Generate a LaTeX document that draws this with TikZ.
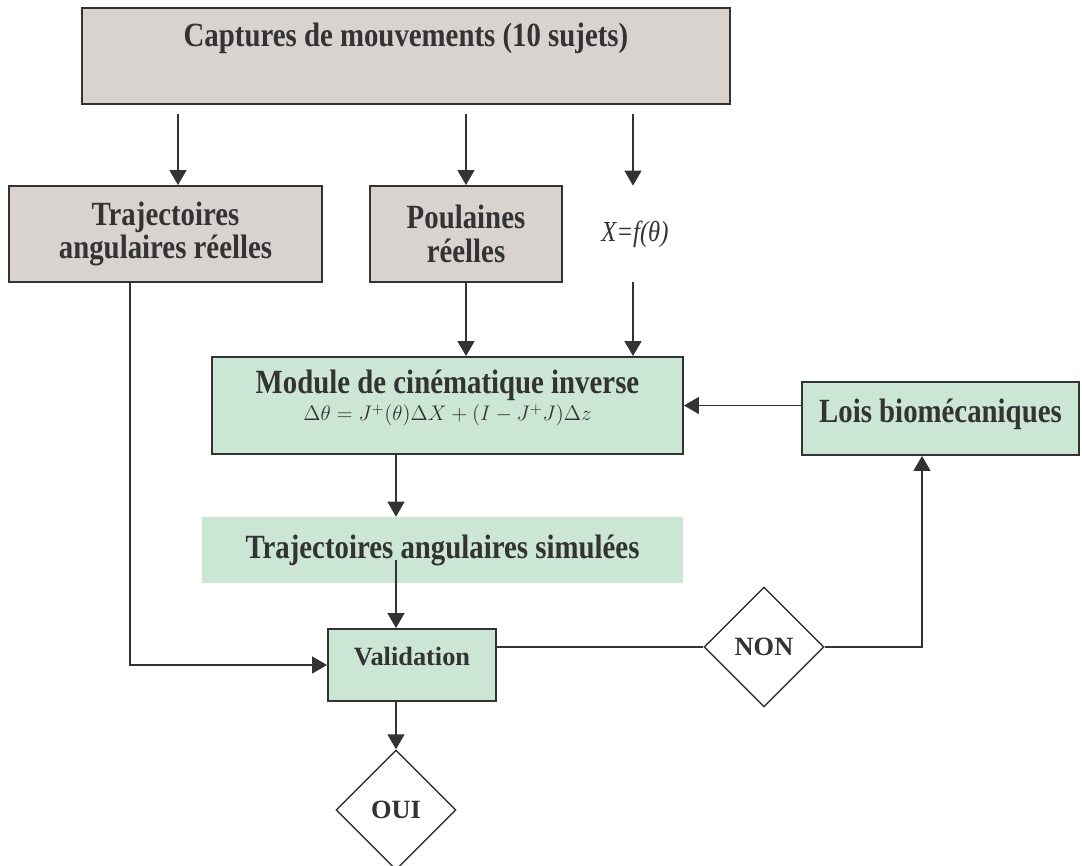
\documentclass[tikz,border=0pt]{standalone}
\usepackage{fontspec}
\setmainfont{Liberation Serif}
\newfontfamily\narrowserif[FakeStretch=0.85]{Liberation Serif}
\usepackage{tikz}
\usetikzlibrary{
  arrows.meta,
  shapes.geometric,
  positioning,
  calc
}
\definecolor{fcInk}{HTML}{333333}
\definecolor{fcGray}{HTML}{D9D3D0}
\definecolor{fcGreen}{HTML}{CCE6D6}
\tikzset{
  fcnode/.style={
    inner sep=0pt, align=center, text=fcInk,
    font=\narrowserif\bfseries\fontsize{19.3}{19.3}\selectfont
  },
  graybox/.style={fcnode, draw=fcInk, line width=1.1pt, fill=fcGray},
  greenbox/.style={fcnode, draw=fcInk, line width=1.1pt, fill=fcGreen},
  plainbox/.style={fcnode, fill=fcGreen},
  decision/.style={
    diamond, aspect=1, draw=fcInk, line width=0.8pt, fill=white,
    minimum width=24mm, minimum height=24mm, inner sep=0pt, text=fcInk,
    font=\bfseries\fontsize{15}{15}\selectfont
  },
  flow/.style={-{Triangle[length=3mm, width=3.4mm]}, line width=0.85pt, draw=fcInk},
  netline/.style={line width=0.85pt, draw=fcInk}
}

\begin{document}
\begin{tikzpicture}[x=0.2mm, y=-0.2mm]
  \useasboundingbox (0,0) rectangle (1082,866);
  \node[graybox, minimum width=129.6mm, text height=7.8mm, text depth=11.4mm] (capt) at (406,56) {Captures de mouvements (10 sujets)};
  \node[graybox, minimum width=62.6mm, minimum height=19.2mm] (traj) at (165.5,234) {Trajectoires\\angulaires réelles};
  \node[graybox, minimum width=38.4mm, minimum height=19.2mm] (poul) at (466,234) {Poulaines\\réelles};
  \node[fcnode, font=\narrowserif\itshape\fontsize{16.5}{16.5}\selectfont, minimum height=19.2mm] (xf) at (635,234) {X=f(θ)};
  \node[greenbox, minimum width=94.2mm, text height=12.8mm, text depth=6.6mm] (modul) at (447.5,405.5) {Module de cinématique inverse\\[-3.5pt]{\fontsize{11.5}{13}\selectfont$\Delta\theta = J^{+}(\theta)\Delta X + \bigl(I - J^{+}J\bigr)\Delta z$}};
  \node[greenbox, minimum width=55.4mm, text height=8.2mm, text depth=6.4mm] (lois) at (940.5,418.5) {Lois biomécaniques};
  \node[plainbox, minimum width=96.2mm, minimum height=13.2mm] (simu) at (442.5,550) {Trajectoires angulaires simulées};
  \node[greenbox, minimum width=33.6mm, text height=7.2mm, text depth=7.2mm, font=\bfseries\fontsize{15}{15}\selectfont] (valid) at (412,665) {Validation};
  \node[decision] (non) at (764,647) {NON};
  \node[decision] (oui) at (396,810) {OUI};

  \foreach \t/\dx in {traj/12.5, poul/0, xf/-2}
    \draw[flow, shorten <=1.8mm] ($(\t.north |- capt.south)+(\dx,0)$) -- ($(\t.north)+(\dx,0)$);
  \foreach \t/\dx in {poul/0, xf/-2}
    \draw[flow] ($(\t.south)+(\dx,0)$) -- ($(\t.south |- modul.north)+(\dx,0)$);
  \draw[flow] (lois.west |- modul.east) -- (modul.east);
  \draw[flow] (oui.north |- modul.south) -- (oui.north |- simu.north);
  \draw[flow, shorten <=-4.6mm] (oui.north |- simu.south) -- (oui.north |- valid.north);
  \draw[flow] (oui.north |- valid.south) -- (oui.north);
  \draw[flow] ($(traj.south)+(-35.5,0)$) |- (valid.west);
  \draw[netline] (valid.east |- non.west) -- (non.west);
  \draw[flow] (non.east) -| ($(lois.south)+(-18.5,0)$);
\end{tikzpicture}
\end{document}
